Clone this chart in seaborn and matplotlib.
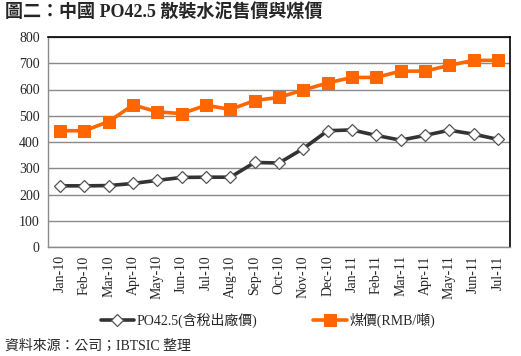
import pandas as pd
import seaborn as sns
import matplotlib.pyplot as plt
from matplotlib.ticker import MultipleLocator, FixedLocator

months = ['Jan-10', 'Feb-10', 'Mar-10', 'Apr-10', 'May-10', 'Jun-10', 'Jul-10', 'Aug-10', 'Sep-10',
          'Oct-10', 'Nov-10', 'Dec-10', 'Jan-11', 'Feb-11', 'Mar-11', 'Apr-11', 'May-11', 'Jun-11', 'Jul-11']
cement = [233, 233, 234, 242, 254, 265, 266, 266, 322, 320, 375, 443, 446, 425, 407, 425, 445, 430, 410]
coal = [443, 443, 478, 541, 515, 508, 540, 524, 558, 570, 598, 625, 646, 646, 670, 670, 692, 711, 711]

cement_label = 'PO42.5(含稅出廠價)'
coal_label = '煤價(RMB/噸)'
title = '圖二：中國 PO42.5 散裝水泥售價與煤價'
source = '資料來源：公司；IBTSIC 整理'

FONTS = ['Liberation Serif', 'Noto Sans CJK TC']

sns.set_style('white')
plt.rcParams['font.family'] = FONTS

df = pd.DataFrame({'month': months, 'cement': cement, 'coal': coal})

fig = plt.figure(figsize=(5.21, 3.56), dpi=100)
ax = fig.add_axes([48 / 521, 1 - 247 / 356, (510 - 48) / 521, (247 - 37) / 356])

sns.lineplot(data=df, x='month', y='cement', ax=ax, sort=False, color='#333333', lw=2.6,
             marker='D', markersize=6, markerfacecolor='white', markeredgecolor='#555555',
             markeredgewidth=0.9, label=cement_label)
sns.lineplot(data=df, x='month', y='coal', ax=ax, sort=False, color='#FF6600', lw=2.6,
             marker='s', markersize=8.5, markerfacecolor='#FF6600', markeredgecolor='#FF6600',
             label=coal_label)

ax.set_xlim(-0.5, len(months) - 0.5)
ax.set_ylim(0, 800)
ax.yaxis.set_major_locator(MultipleLocator(100))
ax.grid(axis='y', color='#8a8a8a', lw=1)
ax.set_axisbelow(True)

ax.set_xticks(range(len(months)))
ax.set_xticklabels(months, rotation=90, fontsize=10)
ax.xaxis.set_minor_locator(FixedLocator([i - 0.5 for i in range(len(months) + 1)]))
ax.tick_params(axis='x', which='major', length=0, pad=6)
ax.tick_params(axis='x', which='minor', length=4, color='#8a8a8a', width=1)
ax.tick_params(axis='y', which='major', length=4, color='#8a8a8a', width=1, labelsize=10, pad=2)
ax.set_xlabel('')
ax.set_ylabel('')

for side in ['left', 'bottom']:
    ax.spines[side].set_color('#8a8a8a')
    ax.spines[side].set_linewidth(1)
for side in ['top', 'right']:
    ax.spines[side].set_visible(True)
    ax.spines[side].set_color('black')
    ax.spines[side].set_linewidth(1.2)

ax.legend(loc='center', bbox_to_anchor=(0.476, -0.35), ncol=2, frameon=False,
          fontsize=10, handlelength=2.4, columnspacing=4, handletextpad=0.2)

fig.text(5 / 521, 1 - 12 / 356, title, fontsize=13, fontweight='bold', va='center', ha='left')
fig.text(5 / 521, 1 - 346 / 356, source, fontsize=10, va='center', ha='left')

plt.savefig('out.png', dpi=100)
